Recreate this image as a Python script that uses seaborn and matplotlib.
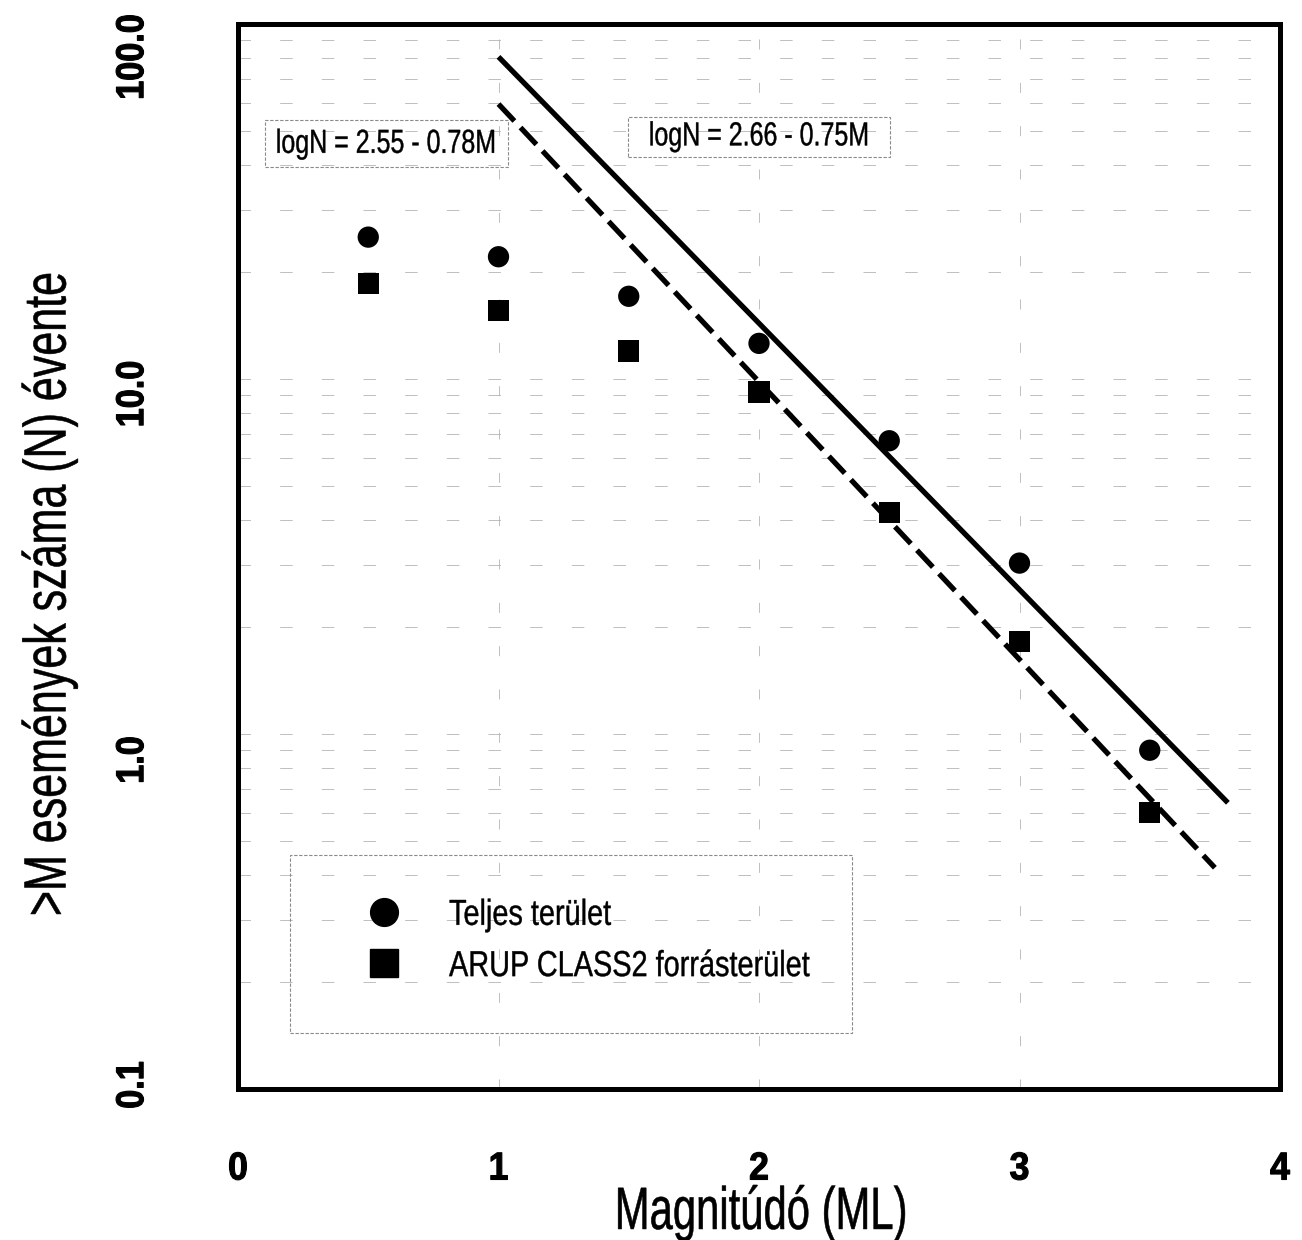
import numpy as np
import pandas as pd
import matplotlib
matplotlib.use("Agg")
import matplotlib.pyplot as plt
import seaborn as sns
from matplotlib import patheffects as pe
from matplotlib.transforms import Affine2D, ScaledTranslation
from matplotlib.lines import Line2D
from matplotlib.patches import Rectangle
from matplotlib.ticker import LogLocator, MultipleLocator, NullFormatter

# ---------------- data ----------------
magnitude = [0.5, 1.0, 1.5, 2.0, 2.5, 3.0, 3.5]
n_total = [25.1, 22.1, 17.1, 12.6, 6.7, 3.03, 0.90]      # Teljes terület
n_arup = [18.6, 15.6, 12.0, 9.2, 4.2, 1.82, 0.60]        # ARUP CLASS2 forrásterület
series_names = ["Teljes terület", "ARUP CLASS2 forrásterület"]

fit_total_M = [1.0, 3.8]
fit_total_N = [80.8, 0.64]     # logN = 2.66 - 0.75M
fit_arup_M = [1.0, 3.75]
fit_arup_N = [59.5, 0.42]      # logN = 2.55 - 0.78M
fit_labels = ["logN = 2.66 - 0.75M", "logN = 2.55 - 0.78M"]

xticks = [0, 1, 2, 3, 4]
xticklabels = ["0", "1", "2", "3", "4"]
yticks = [0.1, 1, 10, 100]
yticklabels = ["0.1", "1.0", "10.0", "100.0"]
xlabel = "Magnitúdó (ML)"
ylabel = ">M események száma (N) évente"


# ---------------- helpers ----------------
class Condense(pe.AbstractPathEffect):
    """Draw text horizontally condensed (like Arial Narrow), optionally thickened."""
    def __init__(self, sx, anchor="center", stroke=0.0):
        super().__init__()
        self.sx = sx
        self.anchor = anchor
        self.stroke = stroke

    def draw_path(self, renderer, gc, tpath, affine, rgbFace=None):
        ext = tpath.get_extents()
        a = 0.0 if self.anchor == "left" else 0.5 * (ext.x0 + ext.x1)
        pre = Affine2D().translate(-a, 0).scale(self.sx, 1).translate(a, 0)
        if self.stroke > 0 and rgbFace is not None:
            gc0 = renderer.new_gc()
            gc0.copy_properties(gc)
            gc0.set_linewidth(self.stroke)
            gc0.set_foreground(rgbFace)
            gc0.set_joinstyle("round")
            renderer.draw_path(gc0, tpath, pre + affine, rgbFace)
            gc0.restore()
        else:
            renderer.draw_path(gc, tpath, pre + affine, rgbFace)


sns.set_style("white")
plt.rcParams["font.family"] = ["Liberation Sans", "DejaVu Sans"]
plt.rcParams["text.color"] = "black"
plt.rcParams["axes.labelcolor"] = "black"
plt.rcParams["xtick.color"] = "black"
plt.rcParams["ytick.color"] = "black"

W, H = 1302, 1240
fig = plt.figure(figsize=(W / 100, H / 100), dpi=100)
ax = fig.add_axes([238 / W, 1 - 1089 / H, 1042 / W, 1065 / H])
ax.set_yscale("log")

df = pd.DataFrame({
    "M": magnitude + magnitude,
    "N": n_total + n_arup,
    "group": [series_names[0]] * len(magnitude) + [series_names[1]] * len(magnitude),
})
sns.scatterplot(data=df, x="M", y="N", style="group",
                markers={series_names[0]: "o", series_names[1]: "s"},
                color="black", s=235, linewidth=0, legend=False, ax=ax, zorder=4)

ax.plot(fit_total_M, fit_total_N, color="black", lw=3.8, solid_capstyle="butt", zorder=3)
ax.plot(fit_arup_M, fit_arup_N, color="black", lw=3.8,
        linestyle=(0, (4.4, 1.7)), dash_capstyle="butt", zorder=3)

ax.set_xlim(0, 4)
ax.set_ylim(0.1, 100)
ax.set_xticks(xticks, xticklabels)
ax.xaxis.set_minor_locator(MultipleLocator(0.5))
ax.set_yticks(yticks, yticklabels)
ax.yaxis.set_minor_locator(LogLocator(base=10, subs=np.arange(2, 10), numticks=30))
ax.yaxis.set_minor_formatter(NullFormatter())

grid_col = "#b4b4b4"
ax.grid(True, which="both", axis="y", color=grid_col, lw=0.6, linestyle=(0, (15, 35)))
ax.grid(True, which="major", axis="x", color=grid_col, lw=0.6, linestyle=(0, (12, 40)))
ax.set_axisbelow(True)

tick_col = "#666666"
ax.tick_params(axis="x", which="major", length=27, width=0.7, color=tick_col,
               pad=18, labelsize=28, labelcolor="black")
ax.tick_params(axis="x", which="minor", length=13, width=0.7, color=tick_col)
ax.tick_params(axis="y", which="major", length=26, width=0.7, color=tick_col,
               pad=36.5, labelsize=28, labelrotation=90, labelcolor="black")
ax.tick_params(axis="y", which="minor", length=14, width=0.7, color=tick_col)

for lab in ax.get_xticklabels():
    lab.set_fontweight("bold")
    lab.set_path_effects([Condense(0.92, stroke=0.8)])

y_label_shift_px = [-4, 26, 15, 33]   # scanned labels sit a little below their ticks
for lab, d in zip(ax.get_yticklabels(), y_label_shift_px):
    lab.set_fontweight("bold")
    lab.set_ha("right")
    lab.set_va("center")
    lab.set_path_effects([Condense(0.88, stroke=0.8)])
    lab.set_transform(lab.get_transform() + ScaledTranslation(0, -d / 100, fig.dpi_scale_trans))

for s in ax.spines.values():
    s.set_linewidth(3.6)
    s.set_color("black")
    s.set_zorder(5)

# axis labels
ax.set_xlabel(xlabel, fontsize=43)
ax.xaxis.set_label_coords(0.502, -0.0901)
ax.xaxis.label.set_path_effects([Condense(0.70, stroke=0.4)])
ax.set_ylabel(ylabel, fontsize=43)
ax.yaxis.set_label_coords(-0.154, 0.465)
ax.yaxis.label.set_path_effects([Condense(0.72, stroke=0.4)])

# equation boxes
box_style = dict(fill=False, edgecolor="#8a8a8a", lw=0.8, linestyle=(0, (3, 1.5)),
                 transform=ax.transAxes, zorder=2)
ax.add_patch(Rectangle((0.026, 0.866), 0.233, 0.044, **box_style))
ax.text(0.142, 0.887, fit_labels[1], transform=ax.transAxes, ha="center", va="center",
        fontsize=24, path_effects=[Condense(0.75, stroke=0.3)], zorder=6)
ax.add_patch(Rectangle((0.374, 0.875), 0.252, 0.038, **box_style))
ax.text(0.500, 0.894, fit_labels[0], transform=ax.transAxes, ha="center", va="center",
        fontsize=24, path_effects=[Condense(0.75, stroke=0.3)], zorder=6)

# legend
ax.add_patch(Rectangle((0.050, 0.0526), 0.539, 0.1674, **box_style))
handles = [Line2D([], [], marker="o", color="black", linestyle="None", markersize=20),
           Line2D([], [], marker="s", color="black", linestyle="None", markersize=20)]
leg = ax.legend(handles, series_names, loc="center left", bbox_to_anchor=(0.1228, 0.139),
                frameon=False, fontsize=26, handlelength=1.0, handletextpad=1.3,
                labelspacing=0.45, borderpad=0, borderaxespad=0)
for t in leg.get_texts():
    t.set_color("black")
    t.set_path_effects([Condense(0.80, "left", stroke=0.3)])

fig.savefig("out.png", dpi=100, facecolor="white")
